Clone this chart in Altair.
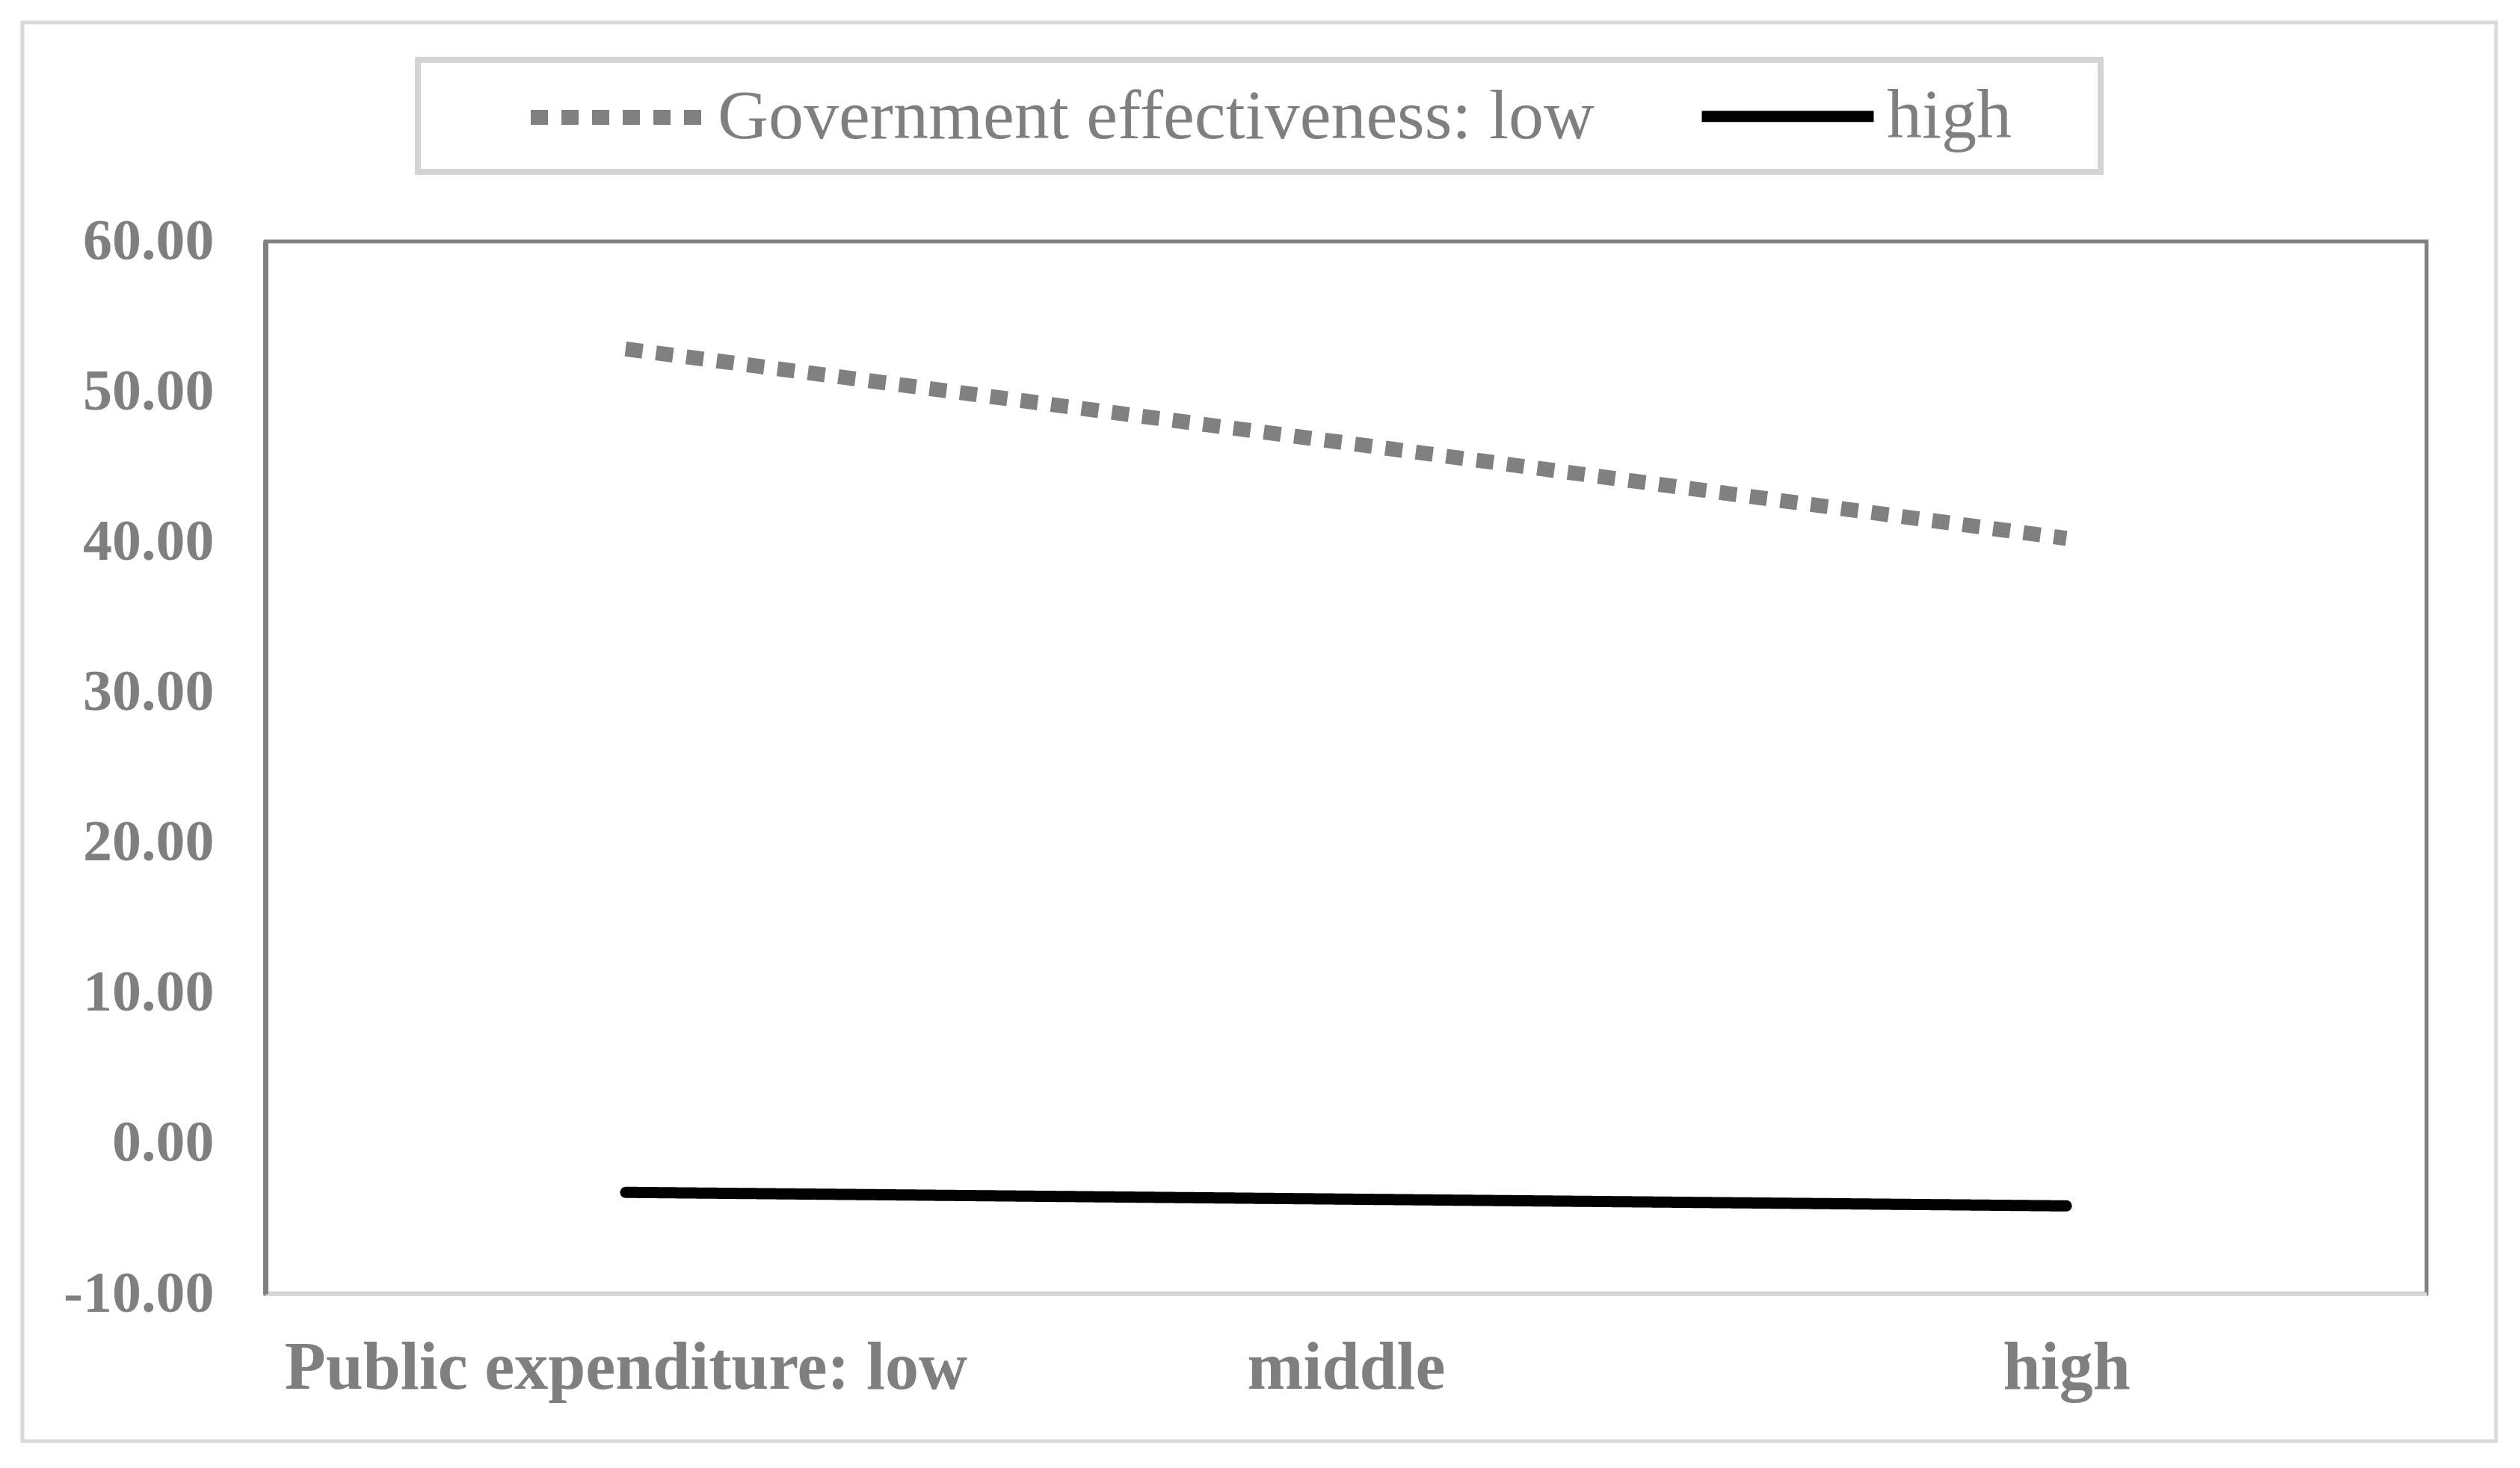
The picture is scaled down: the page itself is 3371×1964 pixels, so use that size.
import altair as alt
import pandas as pd

categories = ["Public expenditure: low", "middle", "high"]
series_names = ["Government effectiveness: low", "high"]
low_values = [52.85, 46.6, 40.25]
high_values = [-3.25, -3.7, -4.15]
y_ticks = [-10, 0, 10, 20, 30, 40, 50, 60]

rows = []
for s, vals in zip(series_names, [low_values, high_values]):
    for c, v in zip(categories, vals):
        rows.append({"category": c, "series": s, "value": v})
df = pd.DataFrame(rows)

FONT = "Liberation Serif"
TXT = "#7f7f7f"

leg = alt.Legend(
    orient="none", legendX=345, legendY=-291, direction="horizontal",
    title=None, symbolType="stroke", symbolSize=52900,
    labelFont=FONT, labelFontSize=94, labelColor=TXT, labelLimit=3000,
    labelOffset=10, columnPadding=113, padding=0, labelBaseline="middle",
)

enc = dict(
    x=alt.X("category:N", sort=categories,
            scale=alt.Scale(type="point", padding=0.5),
            axis=alt.Axis(title=None, labelAngle=0, ticks=False, labelPadding=55,
                          labelFont=FONT, labelFontSize=90, labelFontWeight="bold",
                          labelColor=TXT, domainColor="#d9d9d9", domainWidth=5,
                          grid=False, labelLimit=3000)),
    y=alt.Y("value:Q", scale=alt.Scale(domain=[-10, 60], nice=False),
            axis=alt.Axis(title=None, values=y_ticks, ticks=False, grid=False,
                          labelExpr="datum.value < 0 ? '-' + format(-datum.value, '.2f') : format(datum.value, '.2f')",
                          labelPadding=69, labelFont=FONT, labelFontSize=78,
                          labelFontWeight="bold", labelColor=TXT, labelLimit=3000,
                          domainColor="#808080", domainWidth=7)),
    color=alt.Color("series:N", sort=series_names,
                    scale=alt.Scale(domain=series_names, range=["#808080", "#000000"]),
                    legend=leg),
    strokeDash=alt.StrokeDash("series:N", sort=series_names,
                              scale=alt.Scale(domain=series_names, range=[[23, 18], [1, 0]]),
                              legend=leg),
    strokeWidth=alt.StrokeWidth("series:N", sort=series_names,
                                scale=alt.Scale(domain=series_names, range=[20, 15]),
                                legend=leg),
)

base = alt.Chart(df)
line_low = base.transform_filter(alt.datum.series == series_names[0]).mark_line(strokeCap="butt").encode(**enc)
line_high = base.transform_filter(alt.datum.series == series_names[1]).mark_line(strokeCap="round").encode(**enc)

one = pd.DataFrame({"a": [0]})
outer = alt.Chart(one).mark_rect(filled=False, stroke="#d9d9d9", strokeWidth=5).encode(
    x=alt.value(-325), x2=alt.value(2984), y=alt.value(-293), y2=alt.value(1605))
legbox = alt.Chart(one).mark_rect(fill="white", stroke="#d4d4d4", strokeWidth=8).encode(
    x=alt.value(204), x2=alt.value(2455), y=alt.value(-243), y2=alt.value(-93))

chart = alt.layer(outer, legbox, line_low, line_high).properties(
    width=2891, height=1408,
    autosize=alt.AutoSizeParams(type="none"),
    padding={"left": 347, "top": 315, "right": 100, "bottom": 220},
    background="white",
).configure_view(stroke="#808080", strokeWidth=5)

chart.save("out.html", embed_options={"renderer": "svg", "actions": False})
